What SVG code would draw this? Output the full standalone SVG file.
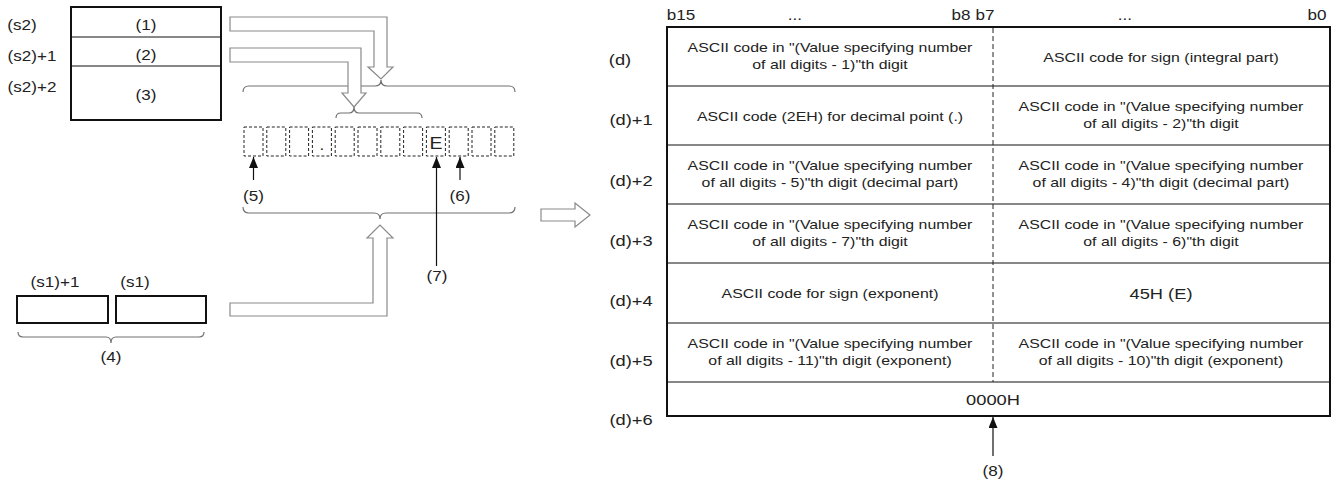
<svg xmlns="http://www.w3.org/2000/svg" width="1334" height="485" viewBox="0 0 1334 485">
<defs>
<style>
text { font-family: "Liberation Sans", Arial, sans-serif; fill: #222; text-anchor: middle; transform-box: fill-box; transform-origin: center; transform: scaleX(1.22); }
.lbl { font-size: 14px; }
.dl { font-size: 15px; }
.cell { font-size: 13px; }
.big { font-size: 15px; }
.e { font-size: 16px; }
.box { fill: #fff; stroke: #111; stroke-width: 2; }
.thin { stroke: #111; stroke-width: 1; fill: none; }
.hollow { fill: #fff; stroke: #8a8a8a; stroke-width: 1.2; }
.brace { fill: none; stroke: #707070; stroke-width: 1.2; }
.dash { fill: none; stroke: #222; stroke-width: 1; stroke-dasharray: 3 2; }
.vdash { fill: none; stroke: #222; stroke-width: 1; stroke-dasharray: 5 3; }
.arr { stroke: #111; stroke-width: 1.2; fill: none; marker-end: url(#ah); }
</style>
<marker id="ah" markerUnits="userSpaceOnUse" markerWidth="12" markerHeight="10" refX="11" refY="4.5" orient="auto">
<path d="M0,0 L11,4.5 L0,9 Z" fill="#111"/>
</marker>
</defs>

<!-- source (s2) block -->
<g id="s2-block">
<rect class="box" x="71" y="7" width="150" height="113"/>
<line class="thin" x1="71" y1="37" x2="221" y2="37"/>
<line class="thin" x1="71" y1="66" x2="221" y2="66"/>
<text class="lbl" x="146" y="30">(1)</text>
<text class="lbl" x="146" y="60">(2)</text>
<text class="lbl" x="146" y="100">(3)</text>
<text class="lbl" x="22" y="30">(s2)</text>
<text class="lbl" x="32" y="61">(s2)+1</text>
<text class="lbl" x="32" y="92">(s2)+2</text>
</g>

<!-- source (s1) block -->
<g id="s1-block">
<rect class="box" x="17" y="296" width="91" height="27"/>
<rect class="box" x="116" y="296" width="90" height="27"/>
<text class="lbl" x="55" y="287">(s1)+1</text>
<text class="lbl" x="135" y="287">(s1)</text>
<path class="brace" d="M18,332 Q18,337 23,337 H106 Q111,337 111,343 Q111,337 116,337 H199 Q204,337 204,332"/>
<text class="lbl" x="111" y="362">(4)</text>
</g>

<!-- character string -->
<g id="string">
<path class="brace" d="M243,92 Q243,86 249,86 H375 Q381,86 381,80 Q381,86 387,86 H509 Q515,86 515,92"/>
<path class="brace" d="M336,118 Q336,113 341,113 H349 Q354,113 354,107 Q354,113 359,113 H417 Q422,113 422,118"/>
<rect class="dash" x="244" y="127" width="19" height="29"/>
<rect class="dash" x="266.8" y="127" width="19" height="29"/>
<rect class="dash" x="289.6" y="127" width="19" height="29"/>
<rect class="dash" x="312.4" y="127" width="19" height="29"/>
<rect class="dash" x="335.2" y="127" width="19" height="29"/>
<rect class="dash" x="358" y="127" width="19" height="29"/>
<rect class="dash" x="380.8" y="127" width="19" height="29"/>
<rect class="dash" x="403.6" y="127" width="19" height="29"/>
<rect class="dash" x="426.4" y="127" width="19" height="29"/>
<rect class="dash" x="449.2" y="127" width="19" height="29"/>
<rect class="dash" x="472" y="127" width="19" height="29"/>
<rect class="dash" x="494.8" y="127" width="19" height="29"/>
<text class="lbl" x="322" y="150">.</text>
<text class="e" x="436" y="149">E</text>
<path class="brace" d="M243,207 Q243,213 249,213 H374 Q380,213 380,219 Q380,213 386,213 H509 Q515,213 515,207"/>
<text class="lbl" x="253.5" y="201">(5)</text>
<text class="lbl" x="460" y="201">(6)</text>
<text class="lbl" x="437" y="281">(7)</text>
</g>

<!-- destination table -->
<g id="table">
<text class="lbl" x="681" y="20">b15</text>
<text class="lbl" x="795" y="20">...</text>
<text class="lbl" x="961" y="20">b8</text>
<text class="lbl" x="985" y="20">b7</text>
<text class="lbl" x="1125" y="20">...</text>
<text class="lbl" x="1317" y="20">b0</text>
<rect x="667" y="27" width="663" height="389" fill="#fff" stroke="#111" stroke-width="2"/>
<line class="thin" x1="667" y1="86" x2="1330" y2="86"/>
<line class="thin" x1="667" y1="145" x2="1330" y2="145"/>
<line class="thin" x1="667" y1="204" x2="1330" y2="204"/>
<line class="thin" x1="667" y1="263" x2="1330" y2="263"/>
<line class="thin" x1="667" y1="323" x2="1330" y2="323"/>
<line class="thin" x1="667" y1="382" x2="1330" y2="382"/>
<line class="vdash" x1="993" y1="28" x2="993" y2="382"/>
<text class="dl" x="620" y="65">(d)</text>
<text class="dl" x="631" y="125">(d)+1</text>
<text class="dl" x="631" y="186">(d)+2</text>
<text class="dl" x="631" y="246">(d)+3</text>
<text class="dl" x="631" y="306">(d)+4</text>
<text class="dl" x="631" y="366">(d)+5</text>
<text class="dl" x="631" y="425">(d)+6</text>
<text class="cell" x="830" y="52">ASCII code in "(Value specifying number</text>
<text class="cell" x="830" y="69">of all digits - 1)"th digit</text>
<text class="cell" x="1161" y="62">ASCII code for sign (integral part)</text>
<text class="cell" x="830" y="121">ASCII code (2EH) for decimal point (.)</text>
<text class="cell" x="1161" y="111">ASCII code in "(Value specifying number</text>
<text class="cell" x="1161" y="128">of all digits - 2)"th digit</text>
<text class="cell" x="830" y="170">ASCII code in "(Value specifying number</text>
<text class="cell" x="830" y="187">of all digits - 5)"th digit (decimal part)</text>
<text class="cell" x="1161" y="170">ASCII code in "(Value specifying number</text>
<text class="cell" x="1161" y="187">of all digits - 4)"th digit (decimal part)</text>
<text class="cell" x="830" y="229">ASCII code in "(Value specifying number</text>
<text class="cell" x="830" y="246">of all digits - 7)"th digit</text>
<text class="cell" x="1161" y="229">ASCII code in "(Value specifying number</text>
<text class="cell" x="1161" y="246">of all digits - 6)"th digit</text>
<text class="cell" x="830" y="298">ASCII code for sign (exponent)</text>
<text class="big" x="1161" y="299">45H (E)</text>
<text class="cell" x="830" y="348">ASCII code in "(Value specifying number</text>
<text class="cell" x="830" y="365">of all digits - 11)"th digit (exponent)</text>
<text class="cell" x="1161" y="348">ASCII code in "(Value specifying number</text>
<text class="cell" x="1161" y="365">of all digits - 10)"th digit (exponent)</text>
<text class="big" x="993" y="405">0000H</text>
<text class="lbl" x="993" y="476">(8)</text>
</g>

<!-- connectors -->
<g id="connectors">
<path class="hollow" d="M230,17 H387 V67 H393 L381,79 L368,67 H374 V31 H230 Z"/>
<path class="hollow" d="M230,48 H361 V93 H366 L354,107 L342,93 H348 V62 H230 Z"/>
<path class="hollow" d="M230,303 H373 V238 H367 L380,225 L393,238 H387 V316 H230 Z"/>
<path class="hollow" d="M541,209 H575 V203 L590,215 L575,227 V221 H541 Z"/>
<line class="arr" x1="253.5" y1="180" x2="253.5" y2="157"/>
<line class="arr" x1="460" y1="180" x2="460" y2="157"/>
<line class="arr" x1="436.5" y1="266" x2="436.5" y2="157"/>
<line class="arr" x1="993" y1="456" x2="993" y2="417"/>
</g>
</svg>
